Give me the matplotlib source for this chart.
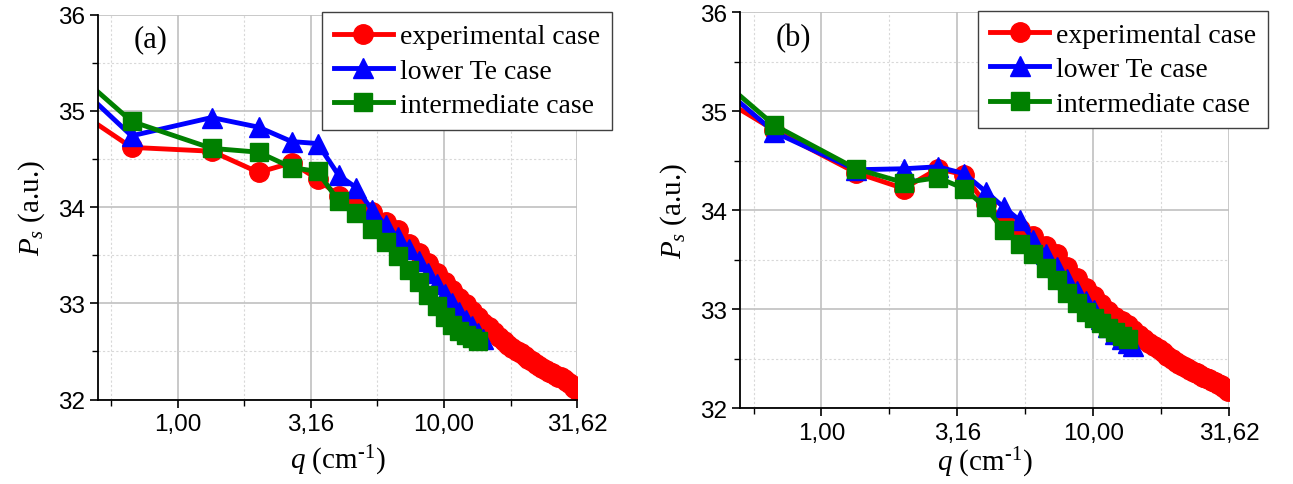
import matplotlib
matplotlib.use("Agg")
import matplotlib.pyplot as plt
from matplotlib.ticker import FixedLocator, NullFormatter

plt.rcParams["mathtext.fontset"] = "custom"
plt.rcParams["mathtext.rm"] = "Liberation Serif"
plt.rcParams["mathtext.it"] = "Liberation Serif:italic"

# q values (cm^-1); first entry lies left of the visible range
q = [0.335, 0.67, 1.34, 2.01, 2.68, 3.35, 4.02, 4.69, 5.36, 6.03, 6.70, 7.37,
     8.04, 8.71, 9.38, 10.05, 10.72, 11.39, 12.06, 12.73, 13.40, 14.07, 14.74,
     15.41, 16.08, 16.75, 17.42, 18.09, 18.76, 19.43, 20.10, 20.77, 21.44,
     22.11, 22.78, 23.45, 24.12, 24.79, 25.46, 26.13, 26.80, 27.47, 28.14,
     28.81, 29.48, 30.15, 30.82, 31.49]

exp_a = [35.18, 34.62, 34.58, 34.36, 34.46, 34.29, 34.12, 34.05, 33.95, 33.85,
         33.76, 33.62, 33.52, 33.42, 33.31, 33.22, 33.14, 33.06, 32.99, 32.92,
         32.86, 32.80, 32.75, 32.70, 32.65, 32.61, 32.57, 32.54, 32.51, 32.48,
         32.45, 32.42, 32.40, 32.37, 32.35, 32.33, 32.31, 32.29, 32.28, 32.26,
         32.24, 32.23, 32.21, 32.19, 32.17, 32.15, 32.12, 32.10]
low_a = [35.52, 34.74, 34.93, 34.83, 34.68, 34.66, 34.33, 34.20, 33.97, 33.81,
         33.69, 33.56, 33.44, 33.31, 33.20, 33.10, 33.00, 32.91, 32.83, 32.76,
         32.69, 32.63]
mid_a = [35.62, 34.89, 34.61, 34.57, 34.41, 34.37, 34.06, 33.94, 33.77, 33.64,
         33.49, 33.35, 33.22, 33.09, 32.97, 32.86, 32.78, 32.71, 32.67, 32.64,
         32.61]

exp_b = [35.31, 34.81, 34.38, 34.22, 34.42, 34.36, 34.06, 33.91, 33.81, 33.74,
         33.64, 33.56, 33.43, 33.32, 33.22, 33.13, 33.05, 32.98, 32.92, 32.88,
         32.84, 32.79, 32.74, 32.70, 32.66, 32.63, 32.60, 32.57, 32.53, 32.50,
         32.47, 32.45, 32.43, 32.41, 32.39, 32.37, 32.36, 32.34, 32.32, 32.31,
         32.30, 32.28, 32.27, 32.25, 32.24, 32.22, 32.20, 32.18]
low_b = [35.50, 34.79, 34.41, 34.42, 34.44, 34.37, 34.19, 34.03, 33.90, 33.70,
         33.56, 33.43, 33.31, 33.19, 33.08, 32.99, 32.90, 32.82, 32.75, 32.70,
         32.66, 32.63]
mid_b = [35.57, 34.86, 34.42, 34.28, 34.33, 34.22, 34.03, 33.80, 33.66, 33.56,
         33.42, 33.30, 33.17, 33.06, 32.97, 32.91, 32.86, 32.81, 32.77, 32.73,
         32.70]

labels = ["experimental case", "lower Te case", "intermediate case"]
x_ticks = [1.0, 3.1623, 10.0, 31.62]
x_ticklabels = ["1,00", "3,16", "10,00", "31,62"]
x_minor = [0.5623, 1.7783, 5.6234, 17.783]
y_ticks = [32, 33, 34, 35, 36]
y_minor = [32.5, 33.5, 34.5, 35.5]

SERIF = "Liberation Serif"
SANS = "Liberation Sans"


def draw_panel(ax, exp, low, mid, tag, legend_anchor, xlabel_pad):
    ax.plot(q[:len(exp)], exp, color="#ff0000", lw=3.5, marker="o", ms=14,
            label=labels[0])
    ax.plot(q[:len(low)], low, color="#0000ff", lw=3.5, marker="^", ms=15,
            label=labels[1])
    ax.plot(q[:len(mid)], mid, color="#008000", lw=3.5, marker="s", ms=12.5,
            label=labels[2])

    ax.set_xscale("log")
    ax.set_xlim(10 ** -0.3, 31.63)
    ax.set_ylim(32, 36)
    ax.xaxis.set_major_locator(FixedLocator(x_ticks))
    ax.xaxis.set_minor_locator(FixedLocator(x_minor))
    ax.xaxis.set_minor_formatter(NullFormatter())
    ax.set_xticklabels(x_ticklabels)
    ax.yaxis.set_major_locator(FixedLocator(y_ticks))
    ax.yaxis.set_minor_locator(FixedLocator(y_minor))

    ax.grid(True, which="major", color="#c0c0c0", lw=1.2)
    ax.grid(True, which="minor", color="#d8d8d8", lw=0.8, ls=(0, (2, 2)))
    ax.set_axisbelow(True)

    for side in ("top", "right"):
        ax.spines[side].set_visible(False)
    for side in ("left", "bottom"):
        ax.spines[side].set_linewidth(1.3)
    ax.tick_params(which="major", direction="out", length=6, width=1.2,
                   labelsize=17.5)
    ax.tick_params(which="minor", direction="out", length=4, width=1.0)
    for lab in ax.get_xticklabels() + ax.get_yticklabels():
        lab.set_family(SANS)

    ax.set_xlabel(r"$q$ (cm$^{\text{-1}}$)", family=SERIF, fontsize=21,
                  labelpad=xlabel_pad)
    ax.set_ylabel(r"$P_s$ (a.u.)", family=SERIF, fontsize=21, labelpad=8)
    ax.text(0.11, 0.937, tag, transform=ax.transAxes, family=SERIF,
            fontsize=22, ha="center", va="center")

    leg = ax.legend(loc="upper right", bbox_to_anchor=legend_anchor,
                    borderaxespad=0, prop={"family": SERIF, "size": 20},
                    handlelength=2.15, handletextpad=0.25, labelspacing=0.32,
                    borderpad=0.42, fancybox=False, framealpha=1)
    leg.get_frame().set_edgecolor("#404040")
    leg.get_frame().set_linewidth(1.0)


fig = plt.figure(figsize=(12.93, 4.85), dpi=100)
ax_a = fig.add_axes([0.0758, 0.174, 0.3705, 0.794])
ax_b = fig.add_axes([0.5723, 0.156, 0.3782, 0.8165])

draw_panel(ax_a, exp_a, low_a, mid_a, "(a)", (1.073, 1.006), 6)
draw_panel(ax_b, exp_b, low_b, mid_b, "(b)", (1.080, 1.004), 1)

fig.savefig("out.png", dpi=100)
